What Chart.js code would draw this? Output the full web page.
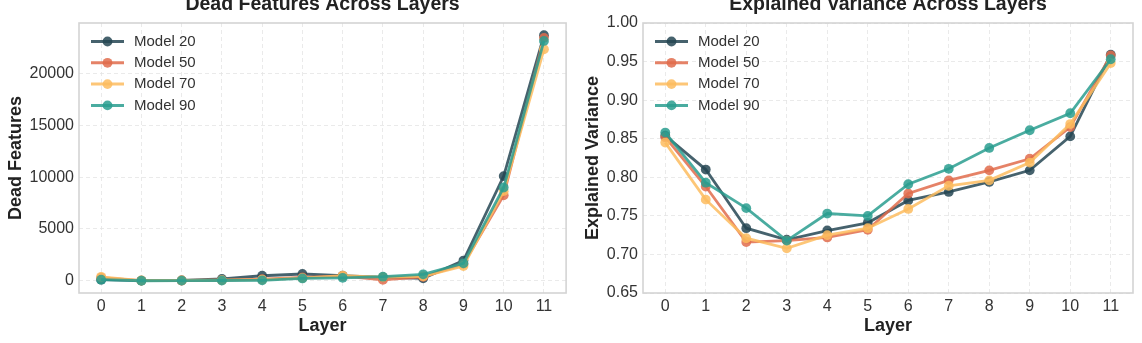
<!DOCTYPE html>
<html>
<head>
<meta charset="utf-8">
<script src="https://cdn.jsdelivr.net/npm/chart.js@4/dist/chart.umd.min.js"></script>
<style>
  html, body { margin: 0; padding: 0; background: #fff; overflow: hidden; }
  .panel { position: absolute; top: -20px; width: 571px; height: 363px; }
</style>
</head>
<body>
<div class="panel" style="left:0"><canvas id="deadChart"></canvas></div>
<div class="panel" style="left:571px"><canvas id="varChart"></canvas></div>
<script>
// data
const layers = [0, 1, 2, 3, 4, 5, 6, 7, 8, 9, 10, 11];
const modelNames = ['Model 20', 'Model 50', 'Model 70', 'Model 90'];

const dead20 = [100, 10, 30, 170, 480, 650, 480, 330, 230, 1950, 10100, 23700];
const dead50 = [300, 10, 20, 60, 150, 330, 450, 80, 380, 1600, 8250, 23450];
const dead70 = [380, 20, 30, 50, 100, 250, 500, 350, 430, 1420, 8650, 22350];
const dead90 = [100, 0, 10, 20, 40, 220, 280, 390, 620, 1680, 9000, 23150];

const var20 = [0.854, 0.810, 0.734, 0.719, 0.731, 0.741, 0.770, 0.781, 0.794, 0.809, 0.853, 0.959];
const var50 = [0.852, 0.788, 0.716, 0.718, 0.722, 0.732, 0.779, 0.796, 0.809, 0.824, 0.865, 0.958];
const var70 = [0.845, 0.771, 0.721, 0.708, 0.725, 0.734, 0.759, 0.789, 0.796, 0.819, 0.869, 0.948];
const var90 = [0.858, 0.793, 0.760, 0.718, 0.753, 0.750, 0.791, 0.811, 0.838, 0.861, 0.883, 0.953];

const deadTicks = [0, 5000, 10000, 15000, 20000];
const varTicks = [0.65, 0.70, 0.75, 0.80, 0.85, 0.90, 0.95, 1.00];

const modelColors = ['rgba(38,70,83,0.85)', 'rgba(224,108,76,0.85)', 'rgba(253,188,95,0.85)', 'rgba(42,157,143,0.85)'];
const FONT = 'Liberation Sans';

// frame around the plot area
const frame = {
    id: 'frame',
    beforeDatasetsDraw(chart) {
        const { ctx, chartArea: a } = chart;
        ctx.save();
        ctx.strokeStyle = '#d4d4d4';
        ctx.lineWidth = 1.6;
        ctx.strokeRect(a.left, a.top, a.right - a.left, a.bottom - a.top);
        ctx.restore();
    }
};

// legend drawn inside the upper-left corner
const insideLegend = {
    id: 'insideLegend',
    afterDatasetsDraw(chart) {
        const { ctx, chartArea: a } = chart;
        ctx.save();
        ctx.font = '15px "' + FONT + '"';
        ctx.textBaseline = 'middle';
        chart.data.datasets.forEach((ds, i) => {
            const y = a.top + 18.5 + i * 21.3;
            const x = a.left + 12;
            ctx.strokeStyle = ds.borderColor;
            ctx.lineWidth = 3;
            ctx.beginPath();
            ctx.moveTo(x, y);
            ctx.lineTo(x + 33, y);
            ctx.stroke();
            ctx.fillStyle = ds.pointBackgroundColor;
            ctx.beginPath();
            ctx.arc(x + 16.5, y, 4.9, 0, Math.PI * 2);
            ctx.fill();
            ctx.fillStyle = '#333';
            ctx.fillText(ds.label, a.left + 55, y);
        });
        ctx.restore();
    }
};

function makeDatasets(seriesList) {
    return seriesList.map((vals, i) => ({
        label: modelNames[i],
        data: vals.map((v, j) => ({ x: layers[j], y: v })),
        borderColor: modelColors[i],
        backgroundColor: modelColors[i],
        pointBackgroundColor: modelColors[i],
        pointBorderColor: modelColors[i],
        borderWidth: 2.8,
        pointRadius: 4.9,
        pointBorderWidth: 0,
        tension: 0,
        order: seriesList.length - 1 - i
    }));
}

function makeOptions(cfg) {
    return {
        responsive: true,
        maintainAspectRatio: false,
        animation: false,
        layout: { padding: { left: 0, right: cfg.padRight, top: 0, bottom: 0 } },
        plugins: {
            legend: { display: false },
            tooltip: { enabled: false },
            title: {
                display: true,
                fullSize: false,
                text: cfg.title,
                color: '#222',
                font: { family: FONT, size: 19.5, weight: 'bold' },
                padding: { top: 13, bottom: 6.6 }
            }
        },
        scales: {
            x: {
                type: 'linear',
                min: -0.55,
                max: 11.55,
                afterBuildTicks: s => { s.ticks = layers.map(v => ({ value: v })); },
                afterFit: s => { s.height = 50; },
                ticks: {
                    autoSkip: false, maxRotation: 0, padding: 4,
                    color: '#333', font: { family: FONT, size: 16 },
                    callback: v => String(v)
                },
                grid: { color: '#e4e4e4', lineWidth: 0.8, drawTicks: false },
                border: { display: false, dash: [4, 3] },
                title: {
                    display: true, text: 'Layer', color: '#222',
                    font: { family: FONT, size: 18, weight: 'bold' },
                    padding: { top: 0, bottom: 6 }
                }
            },
            y: {
                min: cfg.yMin,
                max: cfg.yMax,
                afterBuildTicks: s => { s.ticks = cfg.yTicks.map(v => ({ value: v })); },
                afterFit: s => { s.width = cfg.yWidth; },
                ticks: {
                    padding: 5, color: '#333', font: { family: FONT, size: 16 },
                    callback: cfg.fmt
                },
                grid: { color: '#e4e4e4', lineWidth: 0.8, drawTicks: false },
                border: { display: false, dash: [4, 3] },
                title: {
                    display: true, text: cfg.yTitle, color: '#222',
                    font: { family: FONT, size: 18, weight: 'bold' },
                    padding: { top: cfg.yTitlePad, bottom: 0 }
                }
            }
        }
    };
}

// Dead features chart
new Chart(document.getElementById('deadChart').getContext('2d'), {
    type: 'line',
    data: { datasets: makeDatasets([dead20, dead50, dead70, dead90]) },
    options: makeOptions({
        title: 'Dead Features Across Layers',
        yTitle: 'Dead Features',
        yMin: -1185, yMax: 24885, yTicks: deadTicks,
        fmt: v => String(v),
        yWidth: 79, padRight: 2, yTitlePad: 5
    }),
    plugins: [frame, insideLegend]
});

// Explained variance chart
new Chart(document.getElementById('varChart').getContext('2d'), {
    type: 'line',
    data: { datasets: makeDatasets([var20, var50, var70, var90]) },
    options: makeOptions({
        title: 'Explained Variance Across Layers',
        yTitle: 'Explained Variance',
        yMin: 0.65, yMax: 1.0, yTicks: varTicks,
        fmt: v => v.toFixed(2),
        yWidth: 72, padRight: 9, yTitlePad: 11
    }),
    plugins: [frame, insideLegend]
});
</script>
</body>
</html>
